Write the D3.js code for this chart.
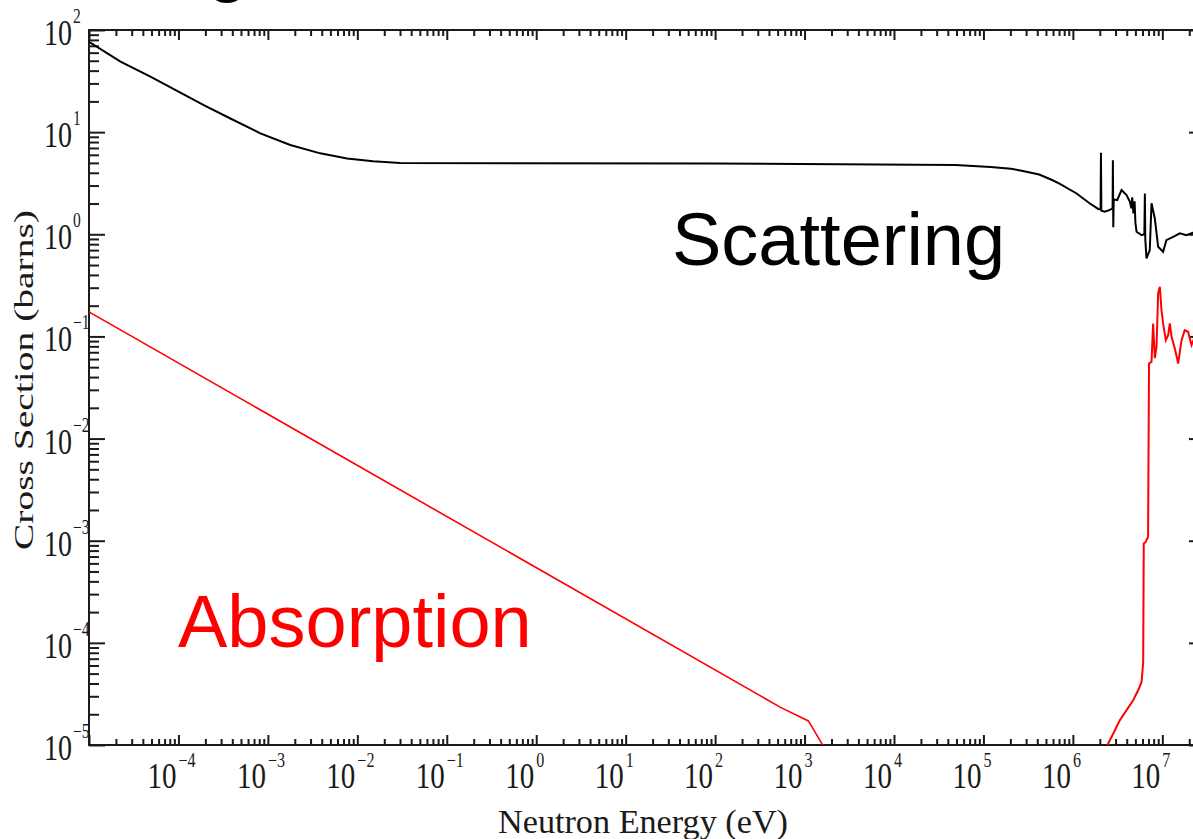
<!DOCTYPE html>
<html>
<head>
<meta charset="utf-8">
<script src="https://cdn.jsdelivr.net/npm/d3@7"></script>
<style>
  html, body { margin: 0; padding: 0; background: #ffffff; }
  svg { display: block; }
</style>
</head>
<body>
<svg id="chart" width="1193" height="839"></svg>
<script>
// ---------------- data ----------------
const xDomain = [1e-5, 3e7];
const yDomain = [1e-5, 1e2];

const xTickExps = [-4, -3, -2, -1, 0, 1, 2, 3, 4, 5, 6, 7];
const yTickExps = [-5, -4, -3, -2, -1, 0, 1, 2];
const xMinorExps = [-5, -4, -3, -2, -1, 0, 1, 2, 3, 4, 5, 6, 7];
const yMinorExps = [-5, -4, -3, -2, -1, 0, 1];
const minorMults = [2, 3, 4, 5, 6, 7, 8, 9];

const xTitle = "Neutron Energy (eV)";
const yTitle = "Cross Section (barns)";
const scatterLabel = "Scattering";
const absorbLabel = "Absorption";

// Scattering cross section (black)
const scatE = [1e-5, 2.25e-5, 4.86e-5, 9.66e-5, 1.92e-4, 3.81e-4, 8.24e-4, 1.78e-3, 3.85e-3, 7.67e-3,
  0.015, 0.03, 97, 4.87e4, 1.2e5, 2.03e5, 2.68e5, 4.2e5, 5.86e5, 7.16e5,
  1.10e6, 1.55e6, 1.92e6, 2.04e6, 2.06e6, 2.08e6, 2.28e6, 2.59e6, 2.78e6, 2.80e6,
  2.83e6, 2.86e6, 3.13e6, 3.50e6, 3.98e6, 4.34e6, 4.5e6, 4.6e6, 4.75e6, 4.9e6,
  5.0e6, 5.15e6, 5.86e6, 6.3e6, 6.38e6, 6.45e6, 6.65e6, 7.24e6, 7.57e6, 8.24e6,
  8.98e6, 1.02e7, 1.11e7, 1.32e7, 1.57e7, 1.86e7, 2.19e7, 2.6e7];
const scatXS = [76.7, 49, 34.9, 25.3, 18.4, 13.6, 9.73, 7.48, 6.2, 5.53,
  5.2, 4.98, 4.92, 4.78, 4.56, 4.38, 4.19, 3.85, 3.40, 3.12,
  2.51, 2.0, 1.77, 1.75, 6.3, 1.70, 1.66, 1.73, 1.8, 5.3,
  1.17, 2.2, 2.16, 2.71, 2.42, 2.08, 1.8, 2.3, 1.6, 2.1,
  1.3, 1.06, 0.98, 1.0, 2.51, 0.9, 0.58, 0.70, 2.01, 1.43,
  0.755, 0.675, 0.877, 0.944, 1.02, 0.98, 1.035, 1.0];

// Absorption cross section (red), low-energy 1/v part
const absLowE = [1e-5, 532, 1104, 1596, 2100];
const absLowXS = [0.174, 2.35e-5, 1.72e-5, 1.0e-5, 5e-6];

// Absorption cross section (red), high-energy threshold part
const absHighE = [2.2e6, 2.38e6, 2.82e6, 3.35e6, 4.72e6, 5.37e6, 5.86e6, 6.11e6, 6.2e6, 6.5e6,
  6.93e6, 7.1e6, 7.57e6, 7.89e6, 8.24e6, 8.61e6, 8.98e6, 9.38e6, 9.79e6, 1.02e7,
  1.094e7, 1.161e7, 1.213e7, 1.268e7, 1.38e7, 1.503e7, 1.64e7, 1.78e7, 1.94e7, 2.12e7,
  2.31e7, 2.6e7];
const absHighXS = [6e-6, 9.6e-6, 1.29e-5, 1.75e-5, 2.74e-5, 3.43e-5, 4.14e-5, 6.5e-5, 9.4e-4, 9.7e-4,
  1.09e-3, 0.0543, 0.0564, 0.134, 0.0613, 0.0791, 0.264, 0.306, 0.181, 0.134,
  0.092, 0.103, 0.134, 0.099, 0.0762, 0.0543, 0.092, 0.115, 0.111, 0.0822,
  0.099, 0.09];

// ---------------- layout ----------------
const plotL = 89, plotR = 1205, plotT = 30, plotB = 745;
const ink = "#1a1a1a";
const labelFont = "'Liberation Serif', 'DejaVu Serif', serif";
const bigFont = "'Liberation Sans', Arial, sans-serif";

const svg = d3.select("#chart");
svg.append("rect").attr("width", 1193).attr("height", 839).attr("fill", "#fff");

const xScale = d3.scaleLog().domain(xDomain).range([plotL, plotR]);
const yScale = d3.scaleLog().domain(yDomain).range([plotB, plotT]);

const xMajorVals = [-5].concat(xTickExps).map(e => Math.pow(10, e));
const yMajorVals = yTickExps.map(e => Math.pow(10, e));
const xMinorVals = [];
xMinorExps.forEach(e => minorMults.forEach(m => {
  const v = m * Math.pow(10, e);
  if (v > xDomain[0] && v < xDomain[1]) xMinorVals.push(v);
}));
const yMinorVals = [];
yMinorExps.forEach(e => minorMults.forEach(m => yMinorVals.push(m * Math.pow(10, e))));

function styleAxis(g) {
  g.select(".domain").remove();
  g.selectAll(".tick line").attr("stroke", ink).attr("stroke-width", 2);
  g.selectAll(".tick text").remove();
}

// bottom
svg.append("g").attr("transform", `translate(0,${plotB})`)
  .call(d3.axisBottom(xScale).tickValues(xMinorVals).tickSize(-6).tickFormat("")).call(styleAxis);
svg.append("g").attr("transform", `translate(0,${plotB})`)
  .call(d3.axisBottom(xScale).tickValues(xMajorVals).tickSize(-10).tickFormat("")).call(styleAxis);
// top
svg.append("g").attr("transform", `translate(0,${plotT})`)
  .call(d3.axisTop(xScale).tickValues(xMinorVals).tickSize(-6).tickFormat("")).call(styleAxis);
svg.append("g").attr("transform", `translate(0,${plotT})`)
  .call(d3.axisTop(xScale).tickValues(xMajorVals).tickSize(-10).tickFormat("")).call(styleAxis);
// left
svg.append("g").attr("transform", `translate(${plotL},0)`)
  .call(d3.axisLeft(yScale).tickValues(yMinorVals).tickSize(-10).tickFormat("")).call(styleAxis);
svg.append("g").attr("transform", `translate(${plotL},0)`)
  .call(d3.axisLeft(yScale).tickValues(yMajorVals).tickSize(-16).tickFormat("")).call(styleAxis);
// right
svg.append("g").attr("transform", `translate(${plotR},0)`)
  .call(d3.axisRight(yScale).tickValues(yMinorVals).tickSize(-10).tickFormat("")).call(styleAxis);
svg.append("g").attr("transform", `translate(${plotR},0)`)
  .call(d3.axisRight(yScale).tickValues(yMajorVals).tickSize(-16).tickFormat("")).call(styleAxis);

// frame
svg.append("rect")
  .attr("x", plotL).attr("y", plotT)
  .attr("width", plotR - plotL).attr("height", plotB - plotT)
  .attr("fill", "none").attr("stroke", ink).attr("stroke-width", 2);

// clip
svg.append("clipPath").attr("id", "plotclip").append("rect")
  .attr("x", plotL).attr("y", plotT).attr("width", plotR - plotL).attr("height", plotB - plotT);

const lineGen = d3.line().x(d => xScale(d[0])).y(d => yScale(d[1]));
const plot = svg.append("g").attr("clip-path", "url(#plotclip)");

plot.append("path").datum(d3.zip(scatE, scatXS))
  .attr("d", lineGen).attr("fill", "none").attr("stroke", "#000").attr("stroke-width", 2)
  .attr("stroke-linejoin", "miter");
plot.append("path").datum(d3.zip(absLowE, absLowXS))
  .attr("d", lineGen).attr("fill", "none").attr("stroke", "#ff0000").attr("stroke-width", 1.6);
plot.append("path").datum(d3.zip(absHighE, absHighXS))
  .attr("d", lineGen).attr("fill", "none").attr("stroke", "#ff0000").attr("stroke-width", 2);

const expText = e => String(e).replace("-", "\u2212");

// x tick labels: one text per label ("10" plus raised exponent)
const sxX = 0.806;
xTickExps.forEach(e => {
  const px = xScale(Math.pow(10, e));
  const t = svg.append("text")
    .attr("transform", `translate(${px},0) scale(${sxX},1)`)
    .attr("font-family", labelFont).attr("fill", ink);
  t.append("tspan").attr("x", -31 / sxX).attr("y", 788).attr("font-size", 36).text("10");
  t.append("tspan").attr("x", 0).attr("y", 767).attr("font-size", 20).text(expText(e));
});

// y tick labels
const sxY = 0.778;
yTickExps.forEach(e => {
  const py = yScale(Math.pow(10, e));
  const t = svg.append("text")
    .attr("transform", `scale(${sxY},1)`)
    .attr("font-family", labelFont).attr("fill", ink);
  t.append("tspan").attr("x", 44 / sxY).attr("y", py + 15).attr("font-size", 36).text("10");
  t.append("tspan").attr("x", 73 / sxY).attr("y", py - 7).attr("font-size", 20).text(expText(e));
});

// axis titles
svg.append("text")
  .attr("x", 498).attr("y", 833)
  .attr("font-family", labelFont).attr("font-size", 34)
  .attr("fill", ink)
  .attr("textLength", 290).attr("lengthAdjust", "spacingAndGlyphs")
  .text(xTitle);

svg.append("text")
  .attr("transform", "translate(33,380) rotate(-90)")
  .attr("text-anchor", "middle")
  .attr("font-family", labelFont).attr("font-size", 27)
  .attr("fill", ink)
  .attr("textLength", 340).attr("lengthAdjust", "spacingAndGlyphs")
  .text(yTitle);

// in-plot labels
svg.append("text")
  .attr("x", 672).attr("y", 265)
  .attr("font-family", bigFont).attr("font-size", 74)
  .attr("fill", "#000")
  .text(scatterLabel);
svg.append("text")
  .attr("x", 178).attr("y", 647)
  .attr("font-family", bigFont).attr("font-size", 74)
  .attr("fill", "#ff0000")
  .text(absorbLabel);

// descender of a title cut off at the top edge of the picture
svg.append("text")
  .attr("x", 207).attr("y", -12)
  .attr("font-family", bigFont).attr("font-size", 74)
  .attr("fill", "#000")
  .text("g");
</script>
</body>
</html>
